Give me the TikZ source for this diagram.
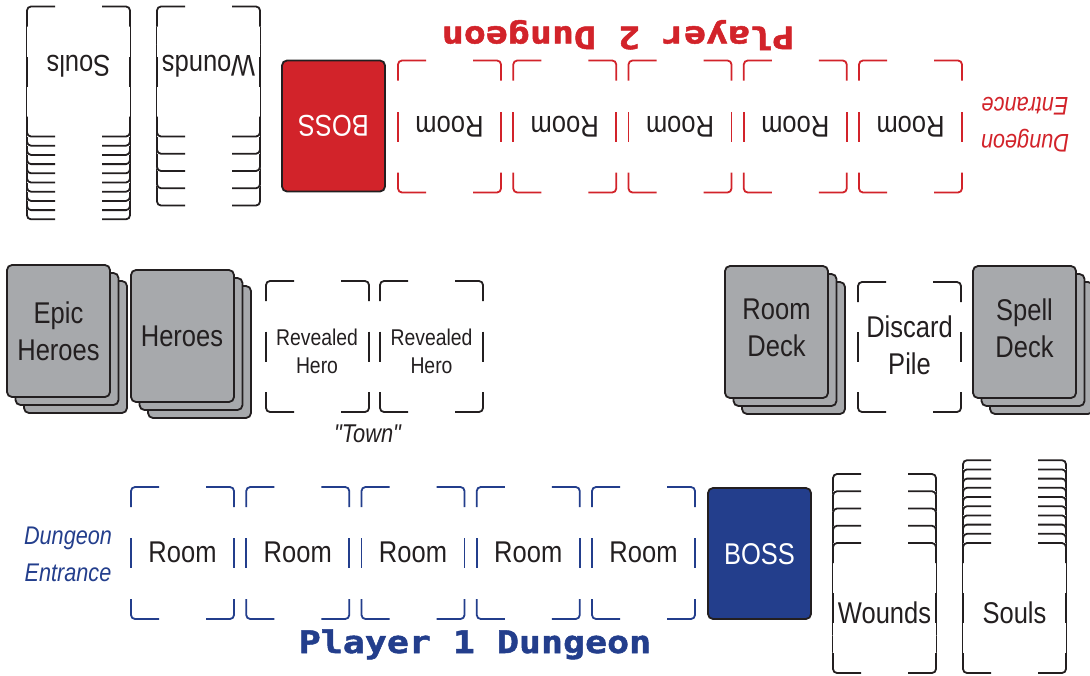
\documentclass[tikz,border=0pt]{standalone}
\usepackage{fontspec}
\setmainfont[FakeStretch=0.85]{Liberation Sans}
\newfontfamily\pixfont[FakeStretch=1.18, BoldFeatures={FakeBold=1.6}]{DejaVu Sans Mono}
\usepackage{xcolor}

\definecolor{p1blue}{RGB}{35,62,140}
\definecolor{p2red}{RGB}{210,35,42}
\definecolor{cardgray}{RGB}{167,169,172}
\definecolor{cardline}{RGB}{35,31,32}

\tikzset{
  cardlabel/.style={text=cardline, font=\fontsize{30}{37}\selectfont, align=center},
  smalllabel/.style={text=cardline, font=\fontsize{22.8}{28}\selectfont, align=center},
  entrance/.style={font=\fontsize{25.5}{37}\selectfont\itshape, align=center},
  dungeontitle/.style={font=\fontsize{31}{31}\selectfont\pixfont\bfseries, anchor=base},
}

% empty slot: left, top, height, colour
\newcommand{\slotcard}[4]{%
  \begin{scope}[shift={(#1,#2)}, color=#4, line width=1.8pt, rounded corners=4pt]
    \fill[white, sharp corners] (0,0) rectangle (103,#3);
    \draw (0,20) -- (0,0) -- (28,0);
    \draw (75,0) -- (103,0) -- (103,20);
    \draw (0,#3-20) -- (0,#3) -- (28,#3);
    \draw (75,#3) -- (103,#3) -- (103,#3-20);
    \draw (0,#3/2-15) -- (0,#3/2+15);
    \draw (103,#3/2-15) -- (103,#3/2+15);
  \end{scope}}

% face-down pile of three cards: left, top
\newcommand{\deckcard}[2]{%
  \filldraw[fill=cardgray, draw=cardline, line width=1.8pt, rounded corners=5pt]
    (#1,#2) rectangle ++(103,132);}
\newcommand{\deckstack}[2]{%
  \deckcard{#1+17}{#2+16}\deckcard{#1+8.5}{#2+8}\deckcard{#1}{#2}}

% tally pile: left, top of front card, cards behind, spacing, colour
\newcommand{\tallystack}[5]{%
  \foreach \k in {#3,...,0} {\slotcard{#1}{#2-\k*#4}{130}{#5}}}

% one player's dungeon row: prefix, colour, title
\newcommand{\playerarea}[3]{%
  \node[entrance, text=#2] (#1-entrance) at (68,554.5) {Dungeon\\Entrance};
  \foreach \i in {0,...,4} {
    \slotcard{131+115.25*\i}{487}{132}{#2}
    \node[cardlabel] (#1-room\i) at (182.5+115.25*\i,552.5) {Room};
  }
  \filldraw[fill=#2, draw=cardline, line width=1.8pt, rounded corners=5pt]
    (708,488) rectangle (811,619);
  \node[cardlabel, text=white] (#1-boss) at (759.5,554) {BOSS};
  \tallystack{833}{543}{4}{17.25}{cardline}
  \node[cardlabel] (#1-wounds) at (884.5,613) {Wounds};
  \tallystack{963}{543}{9}{9.2}{cardline}
  \node[cardlabel] (#1-souls) at (1014.5,613) {Souls};
  \node[dungeontitle, text=#2] (#1-title) at (475,653) {#3};
}

\begin{document}
\begin{tikzpicture}[x=1pt, y=-1pt]
  \useasboundingbox (0,0) rectangle (1090,675);

  % Player 1, bottom
  \playerarea{p1}{p1blue}{Player 1 Dungeon}

  % Player 2, same row turned round
  \begin{scope}[rotate around={180:(546.5,339.75)}, transform shape]
    \playerarea{p2}{p2red}{Player 2 Dungeon}
  \end{scope}

  % Hero decks and the town
  \deckstack{7}{265}
  \node[cardlabel] (epic) at (58.5,331) {Epic\\Heroes};
  \deckstack{131}{270}
  \node[cardlabel] (heroes) at (182,336) {Heroes};
  \slotcard{266}{281}{131}{cardline}
  \node[smalllabel] (hero1) at (317,351) {Revealed\\Hero};
  \slotcard{380}{281}{131}{cardline}
  \node[smalllabel] (hero2) at (431.5,351) {Revealed\\Hero};
  \node[text=cardline, font=\fontsize{25.7}{30}\selectfont\itshape\addfontfeatures{Ligatures=TeXOff}] (town) at (367.5,434) {"Town"};

  % Room deck, discard and spells
  \deckstack{725}{266}
  \node[cardlabel] (roomdeck) at (776.5,328) {Room\\Deck};
  \slotcard{858}{282}{130}{cardline}
  \node[cardlabel] (discard) at (909.5,345) {Discard\\Pile};
  \deckstack{973}{266}
  \node[cardlabel] (spelldeck) at (1024.5,328) {Spell\\Deck};
\end{tikzpicture}
\end{document}
